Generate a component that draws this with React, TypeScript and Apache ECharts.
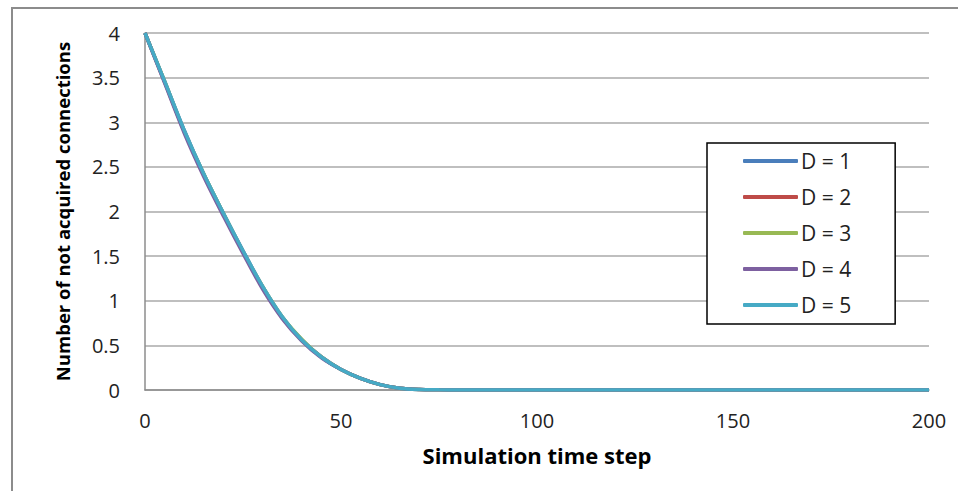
import React, { useEffect, useRef } from "react";
import * as echarts from "echarts";

const times = [0, 5, 10, 15, 20, 25, 30, 35, 40, 45, 50, 55, 60, 65, 70, 75, 80, 100, 120, 150, 175, 200];
const seriesNames = ["D = 1", "D = 2", "D = 3", "D = 4", "D = 5"];
const d1 = [4, 3.46, 2.91, 2.42, 1.98, 1.56, 1.16, 0.82, 0.56, 0.37, 0.23, 0.13, 0.06, 0.02, 0.006, 0.002, 0, 0, 0, 0, 0, 0];
const d2 = [4, 3.45, 2.9, 2.41, 1.97, 1.55, 1.15, 0.81, 0.56, 0.37, 0.23, 0.13, 0.06, 0.021, 0.006, 0.002, 0, 0, 0, 0, 0, 0];
const d3 = [4, 3.46, 2.9, 2.42, 1.98, 1.55, 1.16, 0.82, 0.57, 0.37, 0.23, 0.13, 0.06, 0.02, 0.006, 0.002, 0, 0, 0, 0, 0, 0];
const d4 = [4, 3.44, 2.88, 2.39, 1.95, 1.53, 1.13, 0.8, 0.55, 0.36, 0.23, 0.13, 0.06, 0.02, 0.006, 0.002, 0, 0, 0, 0, 0, 0];
const d5 = [4, 3.46, 2.91, 2.42, 1.98, 1.56, 1.16, 0.82, 0.56, 0.37, 0.23, 0.13, 0.06, 0.02, 0.006, 0.002, 0, 0, 0, 0, 0, 0];
const allData = [d1, d2, d3, d4, d5];
const colors = ["#4A7EBB", "#BE4B48", "#98B954", "#7D60A0", "#46AAC5"];

const FONT = "Open Sans";

export default function App() {
  const ref = useRef<HTMLDivElement>(null);
  useEffect(() => {
    if (!ref.current) return;
    const chart = echarts.init(ref.current, null, { renderer: "svg" });
    chart.setOption({
      animation: false,
      backgroundColor: "#ffffff",
      textStyle: { fontFamily: FONT },
      graphic: [
        {
          type: "rect",
          shape: { x: 12, y: 8, width: 980, height: 520 },
          style: { fill: "none", stroke: "#8c8c8c", lineWidth: 2 },
          z: 0,
        },
      ],
      grid: { left: 145, top: 33, right: 29, bottom: 101 },
      legend: {
        orient: "vertical",
        left: 707,
        top: 143,
        data: seriesNames.map((n) => ({ name: n, icon: "roundRect" })),
        itemWidth: 55,
        itemHeight: 4,
        itemGap: 12,
        padding: [6, 44, 7, 36],
        backgroundColor: "#ffffff",
        borderColor: "#000000",
        borderWidth: 1.5,
        borderRadius: 0,
        textStyle: { fontFamily: FONT, fontSize: 21, color: "#222", lineHeight: 24, padding: [0, 0, 0, -2] },
        selectedMode: false,
      },
      xAxis: {
        type: "value",
        min: 0,
        max: 200,
        interval: 50,
        name: "Simulation time step",
        nameLocation: "middle",
        nameGap: 54,
        nameTextStyle: { fontFamily: FONT, fontSize: 22, fontWeight: "bold", color: "#000" },
        axisLine: { show: true, lineStyle: { color: "#8c8c8c", width: 1.5 } },
        axisTick: { show: false },
        splitLine: { show: false },
        axisLabel: { fontFamily: FONT, fontSize: 20, color: "#222", margin: 20 },
      },
      yAxis: {
        type: "value",
        min: 0,
        max: 4,
        interval: 0.5,
        name: "Number of not acquired connections",
        nameLocation: "middle",
        nameGap: 73,
        nameRotate: 90,
        nameTextStyle: { fontFamily: FONT, fontSize: 18.5, fontWeight: "bold", color: "#000" },
        axisLine: { show: true, lineStyle: { color: "#8c8c8c", width: 1.5 } },
        axisTick: { show: false },
        splitLine: { show: true, lineStyle: { color: "#aaaaaa", width: 1.5 } },
        axisLabel: { fontFamily: FONT, fontSize: 20, color: "#222", margin: 25 },
      },
      series: seriesNames.map((name, i) => ({
        name,
        type: "line",
        data: times.map((t, j) => [t, allData[i][j]]),
        showSymbol: false,
        symbol: "none",
        smooth: 0.3,
        lineStyle: { color: colors[i], width: 3.5 },
        itemStyle: { color: colors[i] },
        z: 2 + i,
      })),
    });
    return () => chart.dispose();
  }, []);
  return (
    <div
      ref={ref}
      style={{ position: "absolute", left: 0, top: 0, width: 958, height: 491 }}
    />
  );
}
